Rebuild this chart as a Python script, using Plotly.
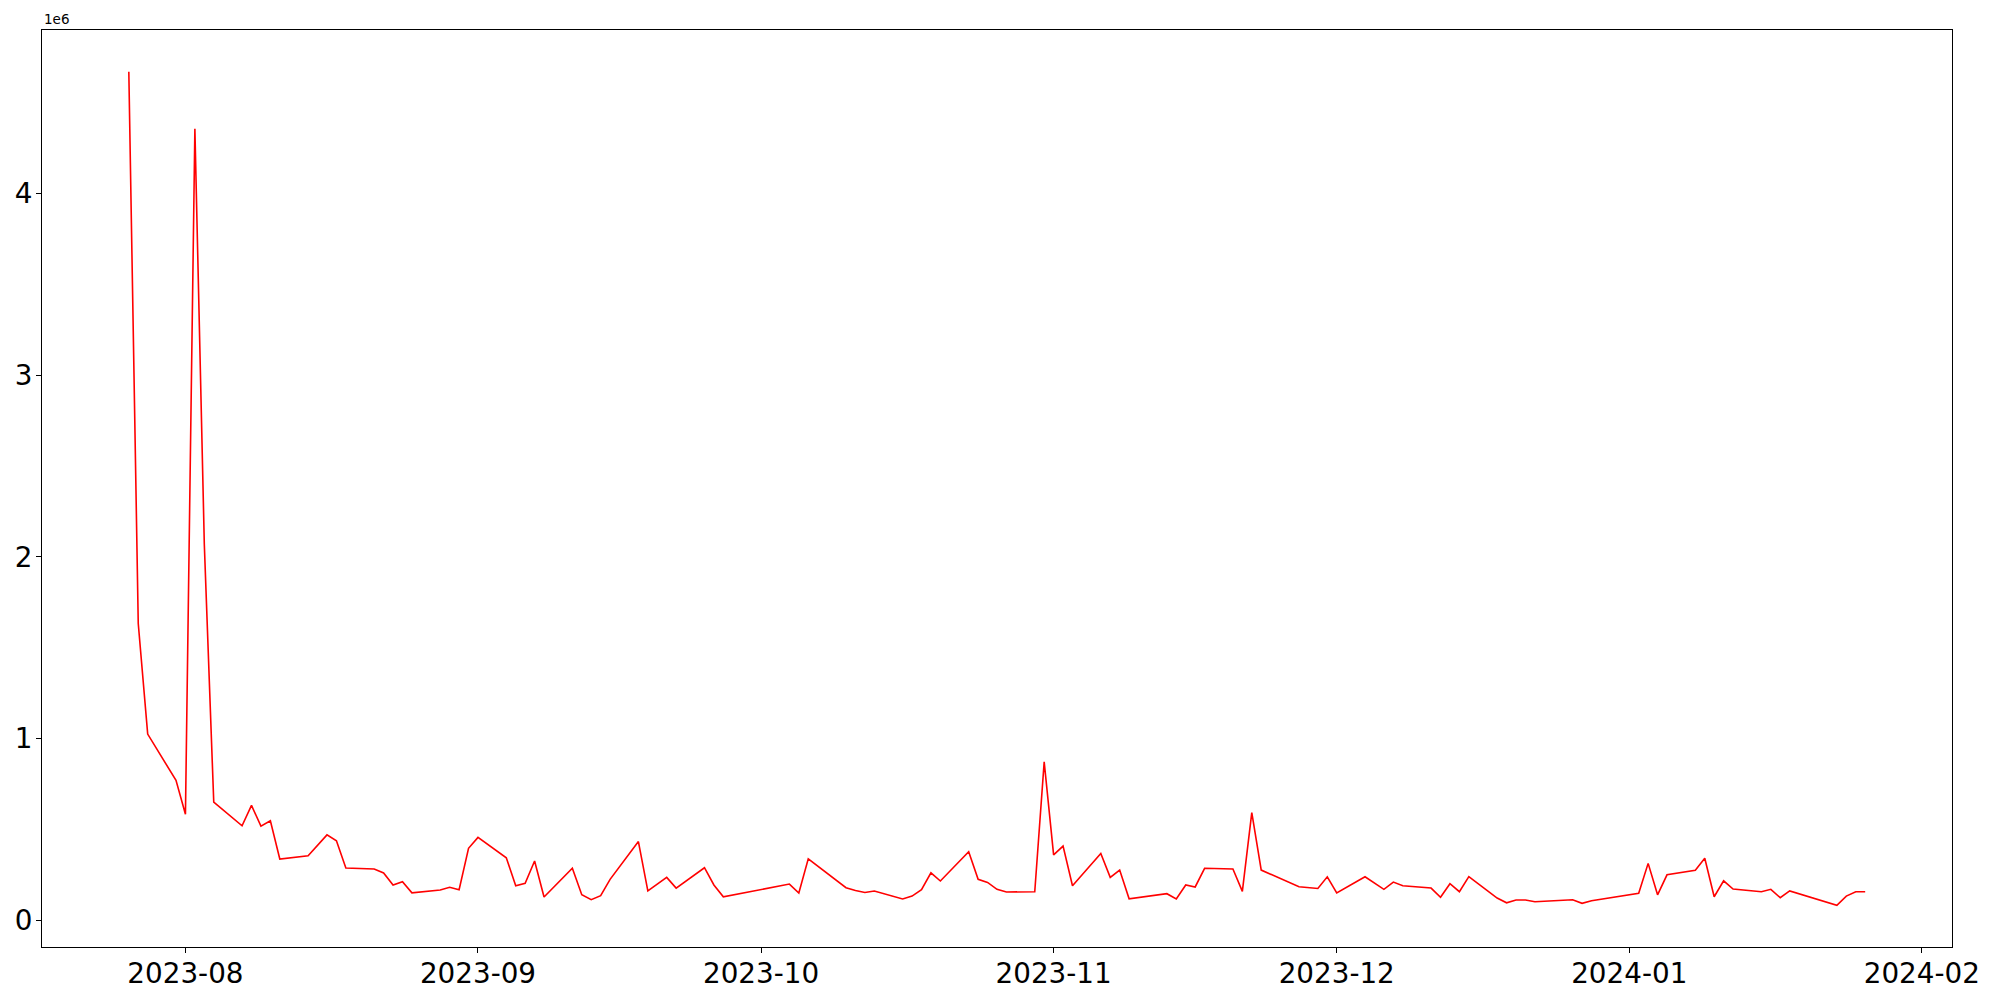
import pandas as pd
import plotly.graph_objects as go

dates = [
    "2023-07-26", "2023-07-27", "2023-07-28", "2023-07-31", "2023-08-01",
    "2023-08-02", "2023-08-03", "2023-08-04", "2023-08-07", "2023-08-08",
    "2023-08-09", "2023-08-10", "2023-08-11", "2023-08-14", "2023-08-16",
    "2023-08-17", "2023-08-18", "2023-08-21", "2023-08-22", "2023-08-23",
    "2023-08-24", "2023-08-25", "2023-08-28", "2023-08-29", "2023-08-30",
    "2023-08-31", "2023-09-01", "2023-09-04", "2023-09-05", "2023-09-06",
    "2023-09-07", "2023-09-08", "2023-09-11", "2023-09-12", "2023-09-13",
    "2023-09-14", "2023-09-15", "2023-09-18", "2023-09-19", "2023-09-20",
    "2023-09-21", "2023-09-22", "2023-09-25", "2023-09-26", "2023-09-27",
    "2023-10-04", "2023-10-05", "2023-10-06", "2023-10-10", "2023-10-11",
    "2023-10-12", "2023-10-13", "2023-10-16", "2023-10-17", "2023-10-18",
    "2023-10-19", "2023-10-20", "2023-10-23", "2023-10-24", "2023-10-25",
    "2023-10-26", "2023-10-27", "2023-10-30", "2023-10-31", "2023-11-01",
    "2023-11-02", "2023-11-03", "2023-11-06", "2023-11-07", "2023-11-08",
    "2023-11-09", "2023-11-13", "2023-11-14", "2023-11-15", "2023-11-16",
    "2023-11-17", "2023-11-20", "2023-11-21", "2023-11-22", "2023-11-23",
    "2023-11-27", "2023-11-29", "2023-11-30", "2023-12-01", "2023-12-04",
    "2023-12-06", "2023-12-07", "2023-12-08", "2023-12-11", "2023-12-12",
    "2023-12-13", "2023-12-14", "2023-12-15", "2023-12-18", "2023-12-19",
    "2023-12-20", "2023-12-21", "2023-12-22", "2023-12-26", "2023-12-27",
    "2023-12-28", "2024-01-02", "2024-01-03", "2024-01-04", "2024-01-05",
    "2024-01-08", "2024-01-09", "2024-01-10", "2024-01-11", "2024-01-12",
    "2024-01-15", "2024-01-16", "2024-01-17", "2024-01-18", "2024-01-23",
    "2024-01-24", "2024-01-25", "2024-01-26",
]

volume = [
    4672000, 1633000, 1024000, 769000, 583000,
    4357000, 2070000, 649000, 519000, 631000,
    517000, 547000, 336000, 354000, 469000,
    436000, 286000, 281000, 259000, 193000,
    211000, 150000, 165000, 180000, 167000,
    395000, 455000, 343000, 189000, 202000,
    325000, 127000, 285000, 139000, 112000,
    134000, 224000, 432000, 161000, 196000,
    235000, 176000, 288000, 193000, 128000,
    198000, 149000, 337000, 178000, 163000,
    152000, 160000, 116000, 132000, 167000,
    260000, 215000, 376000, 224000, 207000,
    169000, 154000, 156000, 871000, 359000,
    407000, 189000, 367000, 235000, 275000,
    117000, 145000, 116000, 193000, 182000,
    285000, 281000, 158000, 591000, 275000,
    183000, 174000, 238000, 149000, 238000,
    169000, 209000, 189000, 176000, 125000,
    200000, 156000, 239000, 121000, 95000,
    110000, 110000, 101000, 112000, 92000,
    106000, 147000, 312000, 139000, 249000,
    274000, 340000, 128000, 216000, 171000,
    156000, 169000, 123000, 160000, 81000,
    132000, 156000, 156000,
]

x_tick_dates = ["2023-08-01", "2023-09-01", "2023-10-01", "2023-11-01",
                "2023-12-01", "2024-01-01", "2024-02-01"]
x_tick_labels = ["2023-08", "2023-09", "2023-10", "2023-11",
                 "2023-12", "2024-01", "2024-02"]
y_tick_values = [0, 1e6, 2e6, 3e6, 4e6]
y_tick_labels = ["0", "1", "2", "3", "4"]

FONT = "DejaVu Sans"

df = pd.DataFrame({"date": pd.to_datetime(dates), "volume": volume})

# matplotlib-like 5% margins on both axes
x_min, x_max = df["date"].min(), df["date"].max()
x_pad = (x_max - x_min) * 0.05
y_min, y_max = df["volume"].min(), df["volume"].max()
y_pad = (y_max - y_min) * 0.05

fig = go.Figure()
fig.add_trace(
    go.Scatter(
        x=df["date"],
        y=df["volume"],
        mode="lines",
        line=dict(color="red", width=1.6),
        showlegend=False,
    )
)

axis_common = dict(
    showgrid=False,
    zeroline=False,
    showline=True,
    mirror=True,
    linecolor="black",
    linewidth=1.1,
    ticks="outside",
    ticklen=5,
    tickwidth=1.1,
    tickcolor="black",
    tickfont=dict(family=FONT, size=27.8, color="black"),
    automargin=False,
)

# page body adds 8px around the plot div, so the figure is sized 1992x992
fig.update_layout(
    width=1992,
    height=992,
    paper_bgcolor="white",
    plot_bgcolor="white",
    margin=dict(l=34, r=48, t=22, b=53, pad=0),
    xaxis=dict(
        **axis_common,
        type="date",
        range=[x_min - x_pad, x_max + x_pad],
        tickvals=pd.to_datetime(x_tick_dates),
        ticktext=x_tick_labels,
        ticklabelstandoff=-3,
    ),
    yaxis=dict(
        **axis_common,
        range=[y_min - y_pad, y_max + y_pad],
        tickvals=y_tick_values,
        ticktext=y_tick_labels,
        ticklabelstandoff=-2,
    ),
    annotations=[
        dict(
            text="1e6",
            xref="paper",
            yref="paper",
            x=0,
            y=1,
            xanchor="left",
            yanchor="bottom",
            yshift=1,
            showarrow=False,
            font=dict(family=FONT, size=13.5, color="black"),
        )
    ],
)

fig.write_html("out.html")
